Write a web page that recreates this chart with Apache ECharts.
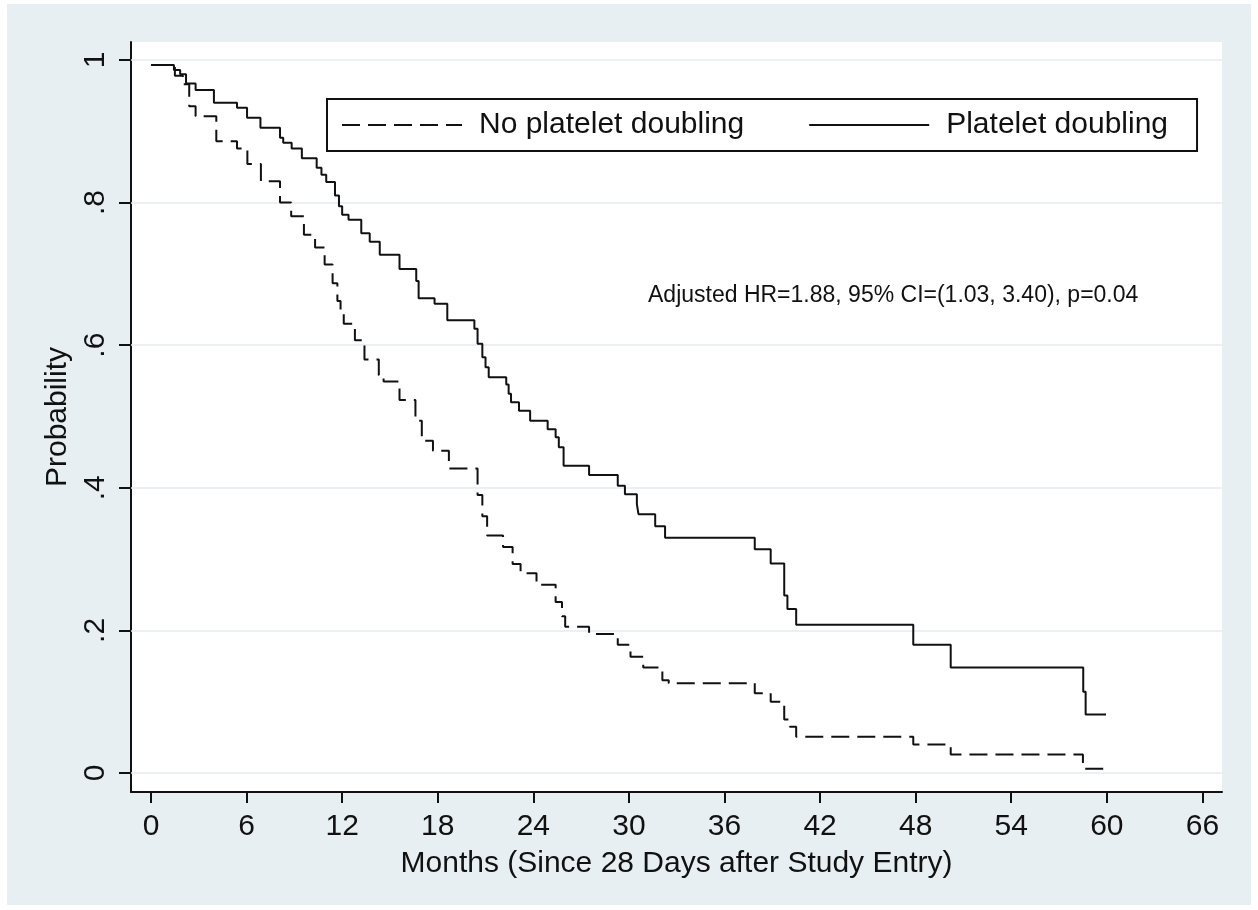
<!DOCTYPE html>
<html>
<head>
<meta charset="utf-8">
<script src="https://cdn.jsdelivr.net/npm/echarts@6/dist/echarts.min.js"></script>
<style>
  body { margin: 0; background: #fff; }
  #panel { position: absolute; left: 7px; top: 4px; width: 1244px; height: 901px; background: #e8eff2; }
  #cv { position: absolute; left: 0; top: 0; width: 1258px; height: 910px; }
</style>
</head>
<body>
<div id="panel"></div>
<div id="cv"></div>
<script>
// KM curves (month, survival)
var noDoublingMonths = [0, 1.5, 2.0, 2.4, 2.8, 4.1, 5.4, 6.05, 6.9, 8.1, 8.8, 9.6, 10.3, 10.9, 11.4,
  11.7, 11.9, 12.1, 12.8, 13.4, 14.3, 14.6, 15.6, 16.6, 17.0, 17.7, 18.7, 20.5, 20.8, 21.1,
  22.1, 22.7, 23.2, 24.2, 25.4, 25.8, 26.0, 27.5, 29.3, 30.1, 30.9, 32.1, 32.5, 37.9, 38.9,
  39.75, 40.1, 40.5, 47.85, 50.2, 58.5, 59.95];
var noDoublingSurv = [0.993, 0.978, 0.966, 0.935, 0.921, 0.886, 0.876, 0.854, 0.830, 0.800, 0.781, 0.755, 0.737, 0.713, 0.687,
  0.662, 0.645, 0.630, 0.607, 0.580, 0.558, 0.549, 0.523, 0.494, 0.466, 0.452, 0.427, 0.390, 0.360, 0.333,
  0.317, 0.293, 0.280, 0.264, 0.240, 0.220, 0.205, 0.195, 0.180, 0.163, 0.148, 0.130, 0.126, 0.112, 0.100,
  0.075, 0.065, 0.051, 0.040, 0.026, 0.006, 0.006];

var doublingMonths = [0, 1.44, 1.83, 2.2, 2.8, 3.95, 5.4, 6.03, 6.87, 8.1, 8.3, 8.83, 9.47, 10.4, 10.7,
  11.0, 11.55, 11.8, 12.0, 12.4, 13.2, 13.73, 14.36, 15.6, 16.65, 16.8, 17.8, 18.6, 20.3, 20.5,
  20.8, 21.0, 21.2, 22.3, 22.45, 22.6, 23.1, 23.8, 24.9, 25.4, 25.6, 25.9, 27.5, 29.3, 29.75,
  30.5, 30.6, 31.65, 32.27, 37.9, 38.9, 39.75, 39.95, 40.5, 47.85, 50.2, 58.52, 58.67, 59.95];
var doublingSurv = [0.993, 0.986, 0.980, 0.967, 0.958, 0.940, 0.933, 0.919, 0.905, 0.891, 0.884, 0.876, 0.862, 0.849, 0.839,
  0.829, 0.810, 0.795, 0.783, 0.776, 0.757, 0.745, 0.727, 0.707, 0.690, 0.666, 0.658, 0.635, 0.623, 0.602,
  0.583, 0.569, 0.555, 0.545, 0.532, 0.520, 0.508, 0.494, 0.482, 0.471, 0.457, 0.431, 0.418, 0.403, 0.391,
  0.377, 0.363, 0.346, 0.330, 0.314, 0.294, 0.249, 0.230, 0.208, 0.180, 0.148, 0.114, 0.082, 0.082];

var xTicks = [0, 6, 12, 18, 24, 30, 36, 42, 48, 54, 60, 66];
var yTicks = [0, 0.2, 0.4, 0.6, 0.8, 1];
var yTickLabels = ['0', '.2', '.4', '.6', '.8', '1'];

var seriesNames = ['No platelet doubling', 'Platelet doubling'];
var noteText = 'Adjusted HR=1.88, 95% CI=(1.03, 3.40), p=0.04';

function zip(xs, ys) {
  return xs.map(function (x, i) { return [x, ys[i]]; });
}

var FONT = "'Liberation Sans', Arial, sans-serif";
var INK = '#111';

var myChart = echarts.init(document.getElementById('cv'));

option = {
  animation: false,
  textStyle: { fontFamily: FONT },
  grid: {
    left: 131, top: 42, right: 36, bottom: 118,
    show: true, backgroundColor: '#fff', borderWidth: 0
  },
  legend: {
    left: 327, top: 99,
    padding: [11, 29, 11, 14],
    itemWidth: 120, itemHeight: 20, itemGap: 64,
    borderColor: INK, borderWidth: 2,
    data: seriesNames,
    // hide the default circle drawn on line legend keys
    itemStyle: { color: 'rgba(0,0,0,0)', borderWidth: 0, opacity: 0 },
    textStyle: { fontSize: 30, color: INK, fontFamily: FONT, padding: [0, 0, 0, 12] }
  },
  graphic: [{
    type: 'text', left: 648, top: 284,
    style: { text: noteText, font: '23px ' + FONT, fill: INK }
  }],
  xAxis: {
    type: 'value',
    min: -1.255, max: 67.23,
    name: 'Months (Since 28 Days after Study Entry)',
    nameLocation: 'middle', nameGap: 57,
    nameTextStyle: { fontSize: 30, color: INK },
    axisLine: { onZero: false, lineStyle: { color: INK, width: 2 } },
    axisTick: { customValues: xTicks, length: 11, lineStyle: { color: INK, width: 2 } },
    axisLabel: { customValues: xTicks, fontSize: 30, color: INK, margin: 20 },
    splitLine: { show: false }
  },
  yAxis: {
    type: 'value',
    min: -0.0266, max: 1.0252,
    name: 'Probability',
    nameLocation: 'middle', nameGap: 58,
    nameTextStyle: { fontSize: 30, color: INK },
    axisLine: { onZero: false, lineStyle: { color: INK, width: 2 } },
    axisTick: { customValues: yTicks, length: 12, lineStyle: { color: INK, width: 2 } },
    axisLabel: {
      customValues: yTicks, fontSize: 30, color: INK, rotate: 90, margin: 20,
      formatter: function (v) {
        var i = yTicks.findIndex(function (t) { return Math.abs(t - v) < 1e-6; });
        return i >= 0 ? yTickLabels[i] : '';
      }
    },
    splitLine: { show: false }
  },
  series: [
    {
      name: seriesNames[0],
      type: 'line',
      step: 'end',
      showSymbol: false,
      symbol: 'none',
      color: INK,
      lineStyle: { color: INK, width: 2, type: [18, 8] },
      data: zip(noDoublingMonths, noDoublingSurv),
      markLine: {
        silent: true, symbol: 'none', z: 1,
        label: { show: false },
        lineStyle: { color: '#e3ebef', width: 1.5, type: 'solid' },
        data: yTicks.map(function (t) { return { yAxis: t }; })
      },
      z: 3
    },
    {
      name: seriesNames[1],
      type: 'line',
      step: 'end',
      showSymbol: false,
      symbol: 'none',
      color: INK,
      lineStyle: { color: INK, width: 2, type: 'solid' },
      data: zip(doublingMonths, doublingSurv),
      z: 3
    }
  ]
};
myChart.setOption(option);
</script>
</body>
</html>
